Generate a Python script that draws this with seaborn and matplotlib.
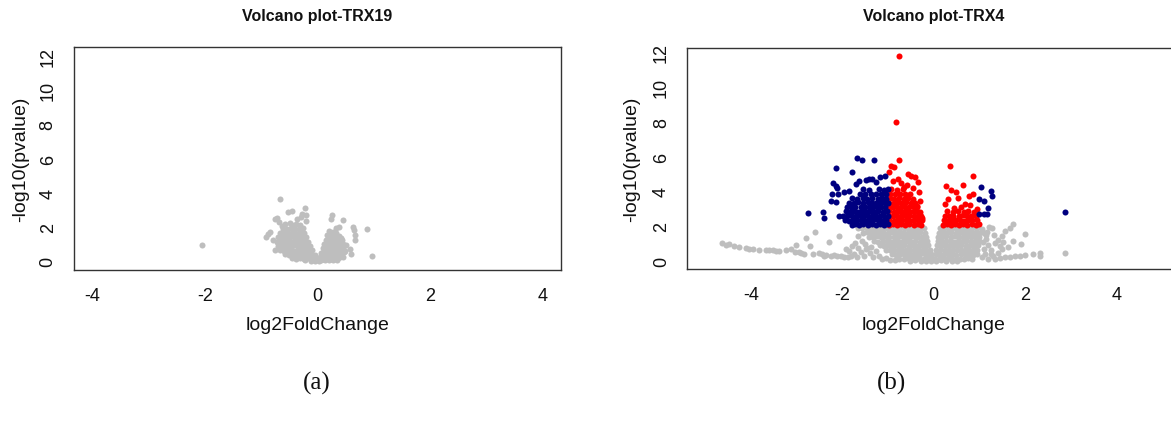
import matplotlib
matplotlib.use("Agg")
import matplotlib.pyplot as plt
import seaborn as sns
import pandas as pd

# ---------------------------------------------------------------------------
# Data: (log2FoldChange, -log10(pvalue)) per gene, grouped by colour class
# ---------------------------------------------------------------------------

# TRX19 -- every gene is non-significant (grey)
trx19_grey = [
    # isolated genes
    (-2.05, 0.95), (-0.66, 3.64), (-0.53, 2.86), (-0.45, 2.92), (-0.22, 3.10),
    (-0.28, 2.76), (-0.21, 2.70), (-0.30, 2.57), (-0.21, 2.33), (-0.76, 2.47),
    (-0.72, 2.55), (0.26, 2.72), (0.24, 2.45), (0.45, 2.41), (0.39, 2.02),
    (0.32, 1.94), (0.63, 1.98), (0.65, 1.85), (0.67, 1.55), (0.66, 1.24),
    (0.88, 1.87), (0.96, 0.33), (-0.92, 1.44), (-0.87, 1.59), (-0.84, 1.69),
    (-0.75, 0.68), (0.57, 0.72), (0.59, 0.43), (-0.63, 2.06), (-0.57, 2.16),
    (-0.49, 2.22), (-0.37, 2.44), (0.51, 0.98), (0.49, 0.61), (-0.79, 1.22),
    (-0.69, 2.28),
    # down-regulated side
    (-0.45, 2.14), (-0.38, 2.17), (-0.31, 2.12),
    (-0.61, 1.91), (-0.54, 1.88), (-0.47, 1.93), (-0.40, 1.90), (-0.33, 1.87), (-0.26, 1.92),
    (-0.66, 1.64), (-0.59, 1.67), (-0.52, 1.63), (-0.45, 1.66), (-0.38, 1.62), (-0.31, 1.67),
    (-0.24, 1.64),
    (-0.70, 1.41), (-0.63, 1.38), (-0.56, 1.42), (-0.49, 1.39), (-0.42, 1.43), (-0.35, 1.38),
    (-0.28, 1.41), (-0.21, 1.40),
    (-0.72, 1.14), (-0.65, 1.17), (-0.58, 1.13), (-0.51, 1.16), (-0.44, 1.12), (-0.37, 1.17),
    (-0.30, 1.14), (-0.23, 1.16), (-0.16, 1.13),
    (-0.70, 0.91), (-0.63, 0.88), (-0.56, 0.92), (-0.49, 0.89), (-0.42, 0.93), (-0.35, 0.88),
    (-0.28, 0.91), (-0.21, 0.89), (-0.13, 0.92),
    (-0.66, 0.66), (-0.59, 0.63), (-0.52, 0.67), (-0.45, 0.64), (-0.38, 0.62), (-0.31, 0.66),
    (-0.24, 0.63), (-0.17, 0.67), (-0.10, 0.64),
    (-0.58, 0.41), (-0.51, 0.38), (-0.44, 0.42), (-0.37, 0.39), (-0.30, 0.43), (-0.23, 0.38),
    (-0.16, 0.41), (-0.09, 0.39), (-0.04, 0.36),
    (-0.45, 0.18), (-0.38, 0.15), (-0.31, 0.19), (-0.24, 0.16), (-0.17, 0.18), (-0.10, 0.15),
    (-0.03, 0.17),
    (-0.22, 0.05), (-0.12, 0.03), (-0.04, 0.04), (0.03, 0.02),
    # in-between fill, down-regulated side
    (-0.57, 1.78), (-0.43, 1.77), (-0.29, 1.79), (-0.62, 1.52), (-0.48, 1.53), (-0.34, 1.51),
    (-0.66, 1.27), (-0.52, 1.28), (-0.38, 1.26), (-0.24, 1.29), (-0.67, 1.02), (-0.53, 1.03),
    (-0.39, 1.01), (-0.25, 1.04), (-0.62, 0.77), (-0.48, 0.78), (-0.34, 0.76), (-0.20, 0.79),
    (-0.54, 0.53), (-0.40, 0.52), (-0.26, 0.54), (-0.13, 0.51), (-0.41, 0.28), (-0.27, 0.29),
    (-0.13, 0.27),
    # up-regulated side
    (0.20, 1.76), (0.27, 1.73),
    (0.17, 1.51), (0.24, 1.48), (0.31, 1.52), (0.38, 1.49),
    (0.15, 1.26), (0.22, 1.23), (0.29, 1.27), (0.36, 1.24), (0.43, 1.26),
    (0.12, 1.01), (0.19, 0.98), (0.26, 1.02), (0.33, 0.99), (0.40, 1.03), (0.46, 1.00),
    (0.10, 0.76), (0.17, 0.73), (0.24, 0.77), (0.31, 0.74), (0.38, 0.76), (0.45, 0.73),
    (0.07, 0.51), (0.14, 0.48), (0.21, 0.52), (0.28, 0.49), (0.35, 0.51), (0.42, 0.48),
    (0.47, 0.52),
    (0.05, 0.27), (0.12, 0.24), (0.19, 0.28), (0.26, 0.25), (0.33, 0.27), (0.40, 0.24),
    (0.46, 0.28),
    (0.06, 0.07), (0.13, 0.05), (0.20, 0.08), (0.27, 0.06), (0.34, 0.09),
    # in-between fill, up-regulated side
    (0.23, 1.62), (0.33, 1.63), (0.20, 1.37), (0.32, 1.38), (0.41, 1.36), (0.16, 1.12),
    (0.28, 1.13), (0.39, 1.14), (0.14, 0.87), (0.27, 0.88), (0.40, 0.86), (0.11, 0.62),
    (0.24, 0.63), (0.37, 0.61), (0.09, 0.38), (0.22, 0.39), (0.36, 0.37), (0.10, 0.16),
    (0.23, 0.15), (0.37, 0.17),
]

# TRX4 -- non-significant genes (grey)
trx4_grey = [
    # long left tail
    (-4.63, 1.05), (-4.55, 0.95), (-4.48, 0.99), (-4.37, 0.86), (-4.26, 0.80), (-4.12, 0.76),
    (-4.05, 0.72), (-3.97, 0.70), (-3.82, 0.67), (-3.68, 0.65), (-3.60, 0.64), (-3.53, 0.63),
    (-3.45, 0.58), (-3.38, 0.61), (-3.24, 0.65), (-3.13, 0.70), (-3.02, 0.93), (-3.03, 0.51),
    (-2.95, 0.55), (-2.91, 0.47), (-2.85, 0.44), (-2.80, 1.33), (-2.72, 0.86), (-2.61, 1.69),
    (-2.65, 0.42), (-2.51, 0.46), (-2.45, 0.40), (-2.40, 0.33), (-2.36, 0.36), (-2.29, 1.09),
    (-2.25, 0.30), (-2.18, 0.36), (-2.12, 0.32), (-2.08, 1.43), (-2.02, 0.29), (-1.97, 0.27),
    (-1.92, 0.70), (-1.86, 0.61), (-1.88, 0.23), (-1.82, 0.30), (-1.80, 0.90), (-1.75, 0.42),
    (-1.72, 1.02), (-1.68, 0.25), (-1.66, 1.47), (-1.65, 0.75), (-1.60, 0.55), (-1.58, 1.15),
    (-1.52, 0.33), (-1.50, 0.98), (-1.48, 0.70), (-1.46, 0.78), (-1.40, 0.45), (-1.37, 0.80),
    (-1.33, 0.22), (-1.27, 0.60), (-1.20, 0.30), (-1.14, 0.12), (-1.05, 0.18), (-0.95, 0.08),
    (-0.85, 0.05),
    # dense down-regulated side
    (-1.65, 1.91), (-1.56, 1.88), (-1.47, 1.92), (-1.38, 1.89), (-1.29, 1.93), (-1.20, 1.88),
    (-1.11, 1.91), (-1.02, 1.89), (-0.93, 1.92), (-0.84, 1.88), (-0.75, 1.91), (-0.66, 1.93),
    (-0.57, 1.89), (-0.48, 1.92), (-0.39, 1.88), (-0.30, 1.91), (-0.22, 1.90),
    (-1.55, 1.64), (-1.46, 1.67), (-1.37, 1.63), (-1.28, 1.66), (-1.19, 1.62), (-1.10, 1.67),
    (-1.01, 1.64), (-0.92, 1.66), (-0.83, 1.63), (-0.74, 1.67), (-0.65, 1.64), (-0.56, 1.62),
    (-0.47, 1.66), (-0.38, 1.63), (-0.29, 1.67), (-0.20, 1.64),
    (-1.42, 1.41), (-1.33, 1.38), (-1.24, 1.42), (-1.15, 1.39), (-1.06, 1.43), (-0.97, 1.38),
    (-0.88, 1.41), (-0.79, 1.39), (-0.70, 1.42), (-0.61, 1.38), (-0.52, 1.41), (-0.43, 1.43),
    (-0.34, 1.39), (-0.25, 1.41), (-0.17, 1.38),
    (-1.30, 1.16), (-1.21, 1.13), (-1.12, 1.17), (-1.03, 1.14), (-0.94, 1.12), (-0.85, 1.16),
    (-0.76, 1.13), (-0.67, 1.17), (-0.58, 1.14), (-0.49, 1.12), (-0.40, 1.16), (-0.31, 1.13),
    (-0.22, 1.17), (-0.14, 1.14),
    (-1.18, 0.91), (-1.09, 0.88), (-1.00, 0.92), (-0.91, 0.89), (-0.82, 0.93), (-0.73, 0.88),
    (-0.64, 0.91), (-0.55, 0.89), (-0.46, 0.92), (-0.37, 0.88), (-0.28, 0.91), (-0.19, 0.89),
    (-0.12, 0.92),
    (-1.05, 0.66), (-0.96, 0.63), (-0.87, 0.67), (-0.78, 0.64), (-0.69, 0.62), (-0.60, 0.66),
    (-0.51, 0.63), (-0.42, 0.67), (-0.33, 0.64), (-0.24, 0.62), (-0.16, 0.66), (-0.09, 0.63),
    (-0.92, 0.41), (-0.83, 0.38), (-0.74, 0.42), (-0.65, 0.39), (-0.56, 0.43), (-0.47, 0.38),
    (-0.38, 0.41), (-0.29, 0.39), (-0.20, 0.42), (-0.12, 0.38), (-0.06, 0.41),
    (-0.75, 0.16), (-0.66, 0.14), (-0.57, 0.17), (-0.48, 0.15), (-0.39, 0.18), (-0.30, 0.14),
    (-0.21, 0.16), (-0.12, 0.15), (-0.04, 0.17),
    (-0.52, 0.03), (-0.40, 0.05), (-0.28, 0.02), (-0.16, 0.04), (-0.05, 0.02), (0.05, 0.03),
    (0.16, 0.05), (0.28, 0.02), (0.40, 0.04), (0.52, 0.03),
    # dense up-regulated side
    (0.13, 1.91), (0.22, 1.88), (0.31, 1.92), (0.40, 1.89), (0.49, 1.93), (0.58, 1.88),
    (0.67, 1.91), (0.76, 1.89), (0.85, 1.92), (0.94, 1.88),
    (0.12, 1.64), (0.21, 1.67), (0.30, 1.63), (0.39, 1.66), (0.48, 1.62), (0.57, 1.67),
    (0.66, 1.64), (0.75, 1.66), (0.84, 1.63), (0.93, 1.67), (0.99, 1.64),
    (0.10, 1.41), (0.19, 1.38), (0.28, 1.42), (0.37, 1.39), (0.46, 1.43), (0.55, 1.38),
    (0.64, 1.41), (0.73, 1.39), (0.82, 1.42), (0.91, 1.38), (1.00, 1.41),
    (0.09, 1.16), (0.18, 1.13), (0.27, 1.17), (0.36, 1.14), (0.45, 1.12), (0.54, 1.16),
    (0.63, 1.13), (0.72, 1.17), (0.81, 1.14), (0.90, 1.12), (0.99, 1.16),
    (0.07, 0.91), (0.16, 0.88), (0.25, 0.92), (0.34, 0.89), (0.43, 0.93), (0.52, 0.88),
    (0.61, 0.91), (0.70, 0.89), (0.79, 0.92), (0.88, 0.88), (0.98, 0.91),
    (0.06, 0.66), (0.15, 0.63), (0.24, 0.67), (0.33, 0.64), (0.42, 0.62), (0.51, 0.66),
    (0.60, 0.63), (0.69, 0.67), (0.78, 0.64), (0.87, 0.62), (0.96, 0.66),
    (0.05, 0.41), (0.14, 0.38), (0.23, 0.42), (0.32, 0.39), (0.41, 0.43), (0.50, 0.38),
    (0.59, 0.41), (0.68, 0.39), (0.77, 0.42), (0.86, 0.38), (0.94, 0.41),
    (0.03, 0.16), (0.12, 0.14), (0.21, 0.17), (0.30, 0.15), (0.39, 0.18), (0.48, 0.14),
    (0.57, 0.16), (0.66, 0.15), (0.75, 0.17), (0.84, 0.14),
    # right-hand scatter
    (1.05, 1.85), (1.10, 1.62), (1.15, 1.30), (1.08, 1.12), (1.20, 0.92), (1.28, 1.92),
    (1.33, 1.52), (1.25, 0.62), (1.40, 1.22), (1.45, 0.85), (1.12, 0.42), (1.30, 0.32),
    (1.20, 0.16), (1.07, 0.22), (1.40, 0.47), (1.73, 2.14), (1.67, 1.89), (1.56, 1.75),
    (1.49, 1.47), (2.00, 1.56), (1.74, 1.18), (1.91, 0.99), (1.63, 0.80), (2.33, 0.47),
    (2.34, 0.32), (2.18, 0.44), (2.00, 0.36), (1.89, 0.29), (1.78, 0.29), (1.67, 0.23),
    (1.56, 0.23), (1.52, 1.09), (1.49, 0.70), (2.88, 0.47), (1.22, 1.98), (1.18, 1.70),
    (1.35, 1.05), (1.10, 0.70), (1.45, 0.20), (1.35, 0.12), (1.25, 0.40), (1.15, 1.50),
]

# TRX4 -- significant, |log2FC| below the fold-change cut (red)
trx4_red = [
    (-0.75, 11.75), (-0.83, 8.00), (-0.76, 5.80), (-0.93, 5.44), (-0.88, 5.38), (-0.97, 5.09),
    (-0.56, 5.00), (-0.49, 4.90), (-0.40, 4.81), (-0.34, 4.56), (-0.89, 4.61), (-0.78, 4.71),
    (-0.71, 4.48), (-0.64, 4.24), (-0.32, 3.95), (-0.31, 2.80), (-0.37, 3.18), (-0.58, 4.36),
    (-0.45, 4.18), (-0.25, 2.45), (-0.30, 3.45),
    (-0.98, 2.10), (-0.89, 2.13), (-0.80, 2.08), (-0.71, 2.12), (-0.62, 2.09), (-0.53, 2.13),
    (-0.44, 2.08), (-0.35, 2.11), (-0.27, 2.09),
    (-0.97, 2.36), (-0.88, 2.33), (-0.79, 2.37), (-0.70, 2.34), (-0.61, 2.38), (-0.52, 2.33),
    (-0.43, 2.36), (-0.34, 2.34), (-0.26, 2.37),
    (-0.98, 2.61), (-0.89, 2.58), (-0.80, 2.62), (-0.71, 2.59), (-0.62, 2.63), (-0.53, 2.58),
    (-0.44, 2.61), (-0.35, 2.59), (-0.28, 2.62),
    (-0.97, 2.86), (-0.88, 2.83), (-0.79, 2.87), (-0.70, 2.84), (-0.61, 2.88), (-0.52, 2.83),
    (-0.43, 2.86), (-0.34, 2.84),
    (-0.98, 3.11), (-0.89, 3.08), (-0.80, 3.12), (-0.71, 3.09), (-0.62, 3.13), (-0.53, 3.08),
    (-0.44, 3.11), (-0.36, 3.09),
    (-0.97, 3.36), (-0.88, 3.33), (-0.79, 3.37), (-0.70, 3.34), (-0.60, 3.38), (-0.50, 3.33),
    (-0.41, 3.36),
    (-0.96, 3.61), (-0.86, 3.58), (-0.76, 3.62), (-0.66, 3.59), (-0.56, 3.63), (-0.46, 3.58),
    (-0.95, 3.86), (-0.85, 3.83), (-0.74, 3.87), (-0.63, 3.84), (-0.51, 3.88),
    (-0.93, 4.11), (-0.81, 4.08), (-0.68, 4.12),
    (0.35, 5.47), (0.86, 4.90), (0.27, 4.33), (0.64, 4.38), (0.37, 4.08), (0.48, 3.95),
    (0.77, 3.76), (0.86, 3.85), (0.32, 3.57), (0.53, 3.62), (0.69, 3.28), (0.24, 3.28),
    (0.60, 3.10), (0.80, 3.20), (0.95, 3.02), (0.45, 3.05),
    (0.20, 2.10), (0.29, 2.13), (0.38, 2.08), (0.47, 2.12), (0.56, 2.09), (0.65, 2.13),
    (0.74, 2.08), (0.83, 2.11), (0.92, 2.09), (1.00, 2.12),
    (0.22, 2.36), (0.31, 2.33), (0.40, 2.37), (0.49, 2.34), (0.58, 2.38), (0.67, 2.33),
    (0.76, 2.36), (0.85, 2.34), (0.94, 2.37),
    (0.25, 2.61), (0.34, 2.58), (0.43, 2.62), (0.55, 2.59), (0.64, 2.63), (0.73, 2.58),
    (0.82, 2.61), (0.92, 2.59),
    (0.30, 2.86), (0.42, 2.83), (0.53, 2.87), (0.66, 2.84), (0.75, 2.88), (0.88, 2.83),
]

# TRX4 -- significant with |log2FC| >= 1 (navy)
trx4_blue = [
    (-2.15, 5.36), (-2.75, 2.76), (-2.43, 2.80), (-2.41, 2.48), (-2.21, 4.48), (-2.14, 4.33),
    (-2.12, 4.18), (-2.23, 3.85), (-2.10, 3.85), (-1.96, 3.98), (-2.25, 3.47), (-2.14, 3.38),
    (-2.08, 2.61), (-1.69, 5.90), (-1.57, 5.78), (-1.31, 5.78), (-1.79, 5.13), (-1.63, 4.61),
    (-1.49, 4.67), (-1.42, 4.71), (-1.35, 4.71), (-1.26, 4.56), (-1.17, 4.81), (-1.07, 4.87),
    (-1.85, 4.02), (-1.70, 4.40),
    (-1.80, 2.10), (-1.72, 2.13), (-1.63, 2.08), (-1.54, 2.12), (-1.45, 2.09), (-1.36, 2.13),
    (-1.27, 2.08), (-1.18, 2.11), (-1.09, 2.09), (-1.01, 2.12),
    (-1.95, 2.36), (-1.86, 2.33), (-1.77, 2.37), (-1.68, 2.34), (-1.59, 2.38), (-1.50, 2.33),
    (-1.41, 2.36), (-1.32, 2.34), (-1.23, 2.37), (-1.14, 2.33), (-1.05, 2.36),
    (-1.98, 2.61), (-1.89, 2.58), (-1.80, 2.62), (-1.71, 2.59), (-1.62, 2.63), (-1.53, 2.58),
    (-1.44, 2.61), (-1.35, 2.59), (-1.26, 2.62), (-1.17, 2.58), (-1.08, 2.61), (-1.01, 2.59),
    (-1.93, 2.86), (-1.84, 2.83), (-1.75, 2.87), (-1.66, 2.84), (-1.57, 2.88), (-1.48, 2.83),
    (-1.39, 2.86), (-1.30, 2.84), (-1.21, 2.87), (-1.12, 2.83), (-1.03, 2.86),
    (-1.90, 3.11), (-1.81, 3.08), (-1.72, 3.12), (-1.60, 3.09), (-1.50, 3.13), (-1.42, 3.08),
    (-1.33, 3.11), (-1.24, 3.09), (-1.15, 3.12), (-1.06, 3.08),
    (-1.86, 3.36), (-1.75, 3.33), (-1.66, 3.37), (-1.55, 3.34), (-1.44, 3.38), (-1.36, 3.33),
    (-1.27, 3.36), (-1.18, 3.34), (-1.09, 3.37), (-1.01, 3.33),
    (-1.80, 3.61), (-1.68, 3.58), (-1.55, 3.62), (-1.47, 3.59), (-1.35, 3.63), (-1.22, 3.58),
    (-1.13, 3.61), (-1.04, 3.59),
    (-1.62, 3.86), (-1.50, 3.83), (-1.38, 3.87), (-1.26, 3.84), (-1.15, 3.88), (-1.05, 3.83),
    (-1.55, 4.11), (-1.42, 4.08), (-1.20, 4.12), (-1.08, 4.09), (-1.01, 4.13),
    (1.03, 4.27), (1.26, 4.04), (1.28, 3.72), (1.00, 3.57), (1.10, 3.43), (1.20, 3.05),
    (1.00, 2.71), (1.10, 2.71), (1.16, 2.71), (2.89, 2.80),
]

x_ticks = [-4, -2, 0, 2, 4]
y_ticks = [0, 2, 4, 6, 8, 10, 12]
titles = ["Volcano plot-TRX19", "Volcano plot-TRX4"]
captions = ["(a)", "(b)"]

GREY, RED, NAVY = "#bebebe", "#ff0000", "#000080"


def frame(points):
    return pd.DataFrame(points, columns=["log2FoldChange", "nlog10p"])


sns.set_style("white")
plt.rcParams["font.family"] = ["Liberation Sans", "DejaVu Sans"]
plt.rcParams["axes.unicode_minus"] = False

W, H = 1171, 427
fig = plt.figure(figsize=(W / 100, H / 100), dpi=100)

# axes rectangles in pixels: left, top, right, bottom
boxes = [(74, 48.3, 561, 270.7), (687.3, 49.3, 1180, 270)]
limits = [((-4.32, 4.32), (-0.49, 12.49)), ((-5.4, 5.4), (-0.44, 12.19))]
layers = [[(trx19_grey, GREY)],
          [(trx4_grey, GREY), (trx4_red, RED), (trx4_blue, NAVY)]]
caption_x = [317, 892]

for i in range(2):
    l, t, r, b = boxes[i]
    ax = fig.add_axes([l / W, 1 - b / H, (r - l) / W, (b - t) / H])
    for pts, col in layers[i]:
        sns.scatterplot(data=frame(pts), x="log2FoldChange", y="nlog10p", ax=ax,
                        color=col, s=19, linewidth=0, legend=False, zorder=3)
    ax.set_xlim(*limits[i][0])
    ax.set_ylim(*limits[i][1])
    ax.set_xticks(x_ticks)
    ax.set_yticks(y_ticks)
    ax.tick_params(direction="out", length=6.5, width=0.9, color="#333333",
                   labelsize=13, labelcolor="#111111", pad=6)
    ax.tick_params(axis="y", labelrotation=90)
    for lab in ax.get_yticklabels():
        lab.set_va("center")
    for sp in ax.spines.values():
        sp.set_color("#333333")
        sp.set_linewidth(1.0)
    ax.set_xlabel("log2FoldChange", fontsize=14, color="#111111")
    ax.set_ylabel("-log10(pvalue)", fontsize=14, color="#111111")
    ax.xaxis.label.set_va("center")
    ax.yaxis.label.set_va("center")
    ax.xaxis.set_label_coords(0.5, -(325 - b) / (b - t))
    ylab_x = 21 if i == 0 else 632
    ax.yaxis.set_label_coords((ylab_x - l) / (r - l), 0.5)
    fig.text(((l + r) / 2) / W, 1 - 17 / H, titles[i], ha="center", va="center",
             fontsize=11.5, fontweight="bold", color="#111111")
    fig.text(caption_x[i] / W, 1 - 383 / H, captions[i], ha="center", va="center",
             fontsize=18, family="Liberation Serif", color="#111111")

fig.savefig("out.png", dpi=100, facecolor="white")
